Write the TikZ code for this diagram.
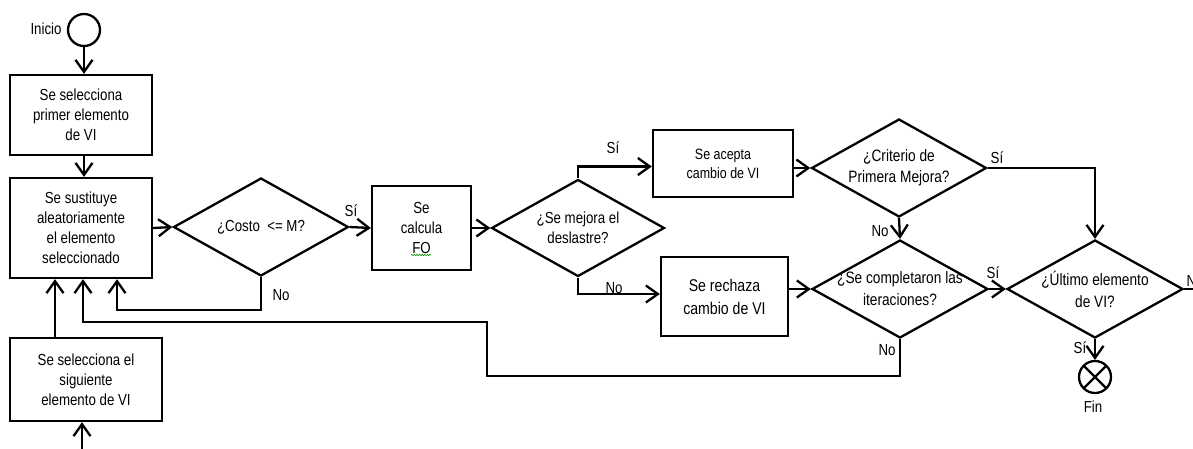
\documentclass[tikz,border=0pt]{standalone}
\usepackage{fontspec}
\setmainfont{Liberation Sans}[FakeStretch=0.83]
\usetikzlibrary{shapes.geometric,arrows.meta,decorations.pathmorphing}

\begin{document}
\begin{tikzpicture}[x=1pt,y=-1pt,
  every node/.style={font=\fontsize{16}{20}\selectfont, text=black},
  ln/.style={line width=2.3pt},
  arr/.style={line width=2.3pt, -{Straight Barb[length=12pt,width=17pt]}},
  box/.style={draw, rectangle, line width=2.3pt, inner sep=0pt, align=center},
  dia/.style={draw, diamond, line width=2.3pt, inner sep=0pt,
              minimum width=175pt, minimum height=98pt},
  every label/.style={align=center, font=\fontsize{16}{20}\selectfont},
  term/.style={draw, circle, line width=2.3pt, minimum size=32pt, inner sep=0pt}]

\useasboundingbox (0,0) rectangle (1193,448);

% start and end terminals
\node[term] (start) at (84,30) {};
\node (ini) at (46,29) {Inicio};
\node[term, path picture={
    \draw[line width=2.3pt] (path picture bounding box.north west) -- (path picture bounding box.south east)
      (path picture bounding box.north east) -- (path picture bounding box.south west);}]
  (fin) at (1095,377) {};
\node (finl) at (1093,407) {Fin};

% process boxes
\node[box, minimum width=142pt, minimum height=80pt] (b1) at (81,115)
  {Se selecciona\\primer elemento\\de VI};
\node[box, minimum width=142pt, minimum height=100pt] (b2) at (81,228)
  {Se sustituye\\aleatoriamente\\el elemento\\seleccionado};
\node[box, minimum width=152pt, minimum height=83pt] (b3) at (86,379.5)
  {Se selecciona el\\siguiente\\elemento de VI};
\node[box, minimum width=99pt, minimum height=84pt] (fo) at (421.5,228)
  {Se\\calcula\\FO};
\node[box, minimum width=140pt, minimum height=67pt, font=\fontsize{15}{19}\selectfont] (acc) at (723,163.5)
  {Se acepta\\cambio de VI};
\node[box, minimum width=127pt, minimum height=79pt, font=\fontsize{17}{23}\selectfont] (rech) at (724.5,296.5)
  {Se rechaza\\cambio de VI};

% spell-check underline under FO
\draw[green!55!black, line width=0.6pt, decorate,
      decoration={snake, amplitude=0.7pt, segment length=2.6pt}] (411,255) -- (431,255);

% decisions
\node[dia, label={center:{¿Costo\ \ <= M?}}] (d1) at (261,227) {};
\node[dia, minimum width=173pt, minimum height=97pt,
      label={center:{¿Se mejora el\\deslastre?}}] (d2) at (578,228) {};
\node[dia, label={[font=\fontsize{16.5}{21}\selectfont]center:{¿Criterio de\\Primera Mejora?}}] (d3) at (899,168) {};
\node[dia, minimum width=176pt, label={[font=\fontsize{16.5}{22}\selectfont]center:{¿Se completaron las\\iteraciones?}}] (d4) at (900,289) {};
\node[dia, minimum width=176pt, label={[font=\fontsize{16.5}{22}\selectfont]center:{¿Último elemento\\de VI?}}] (d5) at (1095,289) {};

% waypoints of the return paths
\coordinate (j1) at (487,376);
\coordinate (j2) at (487,322);
\coordinate (inb) at (82,452);
\coordinate (outr) at (1200,289);

% connectors
\draw[arr] (start.south) -- (start.south |- b1.north);
\draw[arr] (b1.south -| start.south) -- (start.south |- b2.north);
\draw[arr] (b2.east) -- (d1.west);
\draw[arr] (d1.east) -- (fo.west);
\draw[arr] (d1.south) -- ++(0,33) -| ([xshift=36pt]b2.south);
\draw[arr] (fo.east) -- (d2.west);
\draw[arr] (d2.north) |- ([yshift=-3pt]acc.west);
\draw[arr] (d2.south) |- ([yshift=2.5pt]rech.west);
\draw[arr] (acc.east |- d3.west) -- (d3.west);
\draw[arr] (rech.east |- d4.west) -- (d4.west);
\draw[arr] (d3.south) -- (d4.north);
\draw[arr] (d3.east) -| (d5.north);
\draw[arr] (d4.east) -- (d5.west);
\draw[arr] (d5.south) -- (fin.north);
\draw[ln] (d5.east) -- (outr);
\draw[arr] (d4.south) |- (j1) -- (j2) -| ([xshift=2pt]b2.south);
\draw[arr] ([xshift=-31pt]b3.north) -- ([xshift=-31pt]b3.north |- b2.south);
\draw[arr] (inb) -- (inb |- b3.south);

% branch labels
\node (s1) at (351,211) {Sí};
\node (n1) at (281,295) {No};
\node (s2) at (613,148) {Sí};
\node (n2) at (614,288) {No};
\node (n3) at (880,231) {No};
\node (s3) at (997,158) {Sí};
\node (s4) at (993,273) {Sí};
\node (n4) at (887,350) {No};
\node[anchor=west] (n5) at (1183,281) {No};
\node (s5) at (1080,348) {Sí};
\end{tikzpicture}
\end{document}
